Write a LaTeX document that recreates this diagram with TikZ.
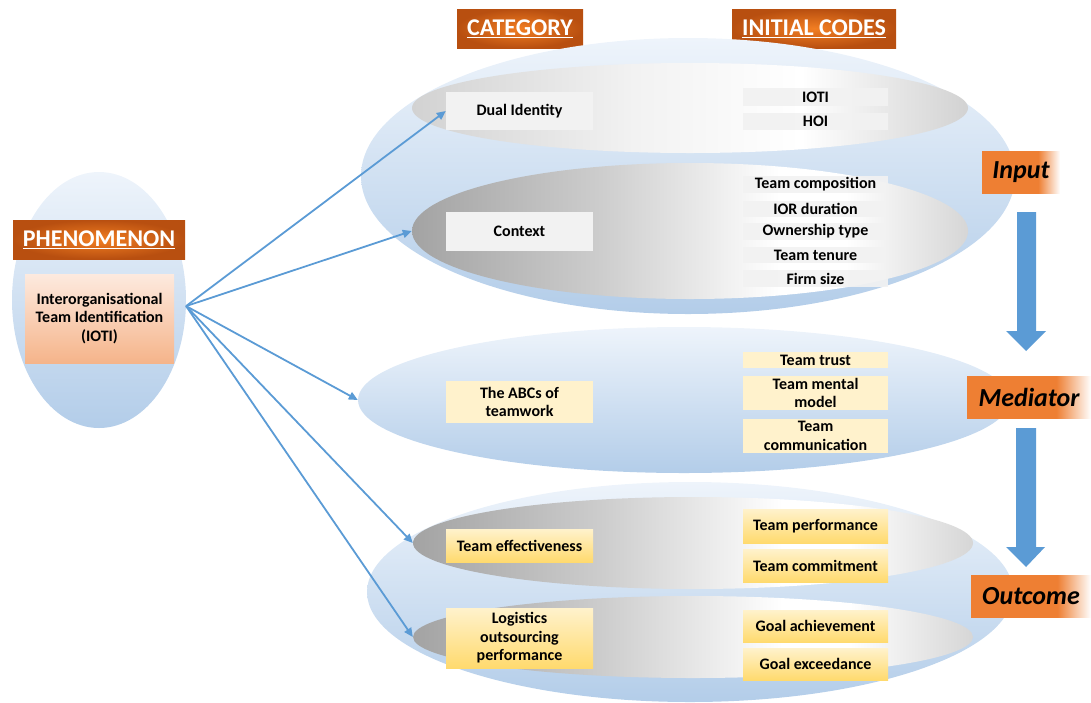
\documentclass[tikz,border=0pt]{standalone}
\usepackage{fontspec}
\setmainfont{Carlito}
\usetikzlibrary{shapes.geometric,arrows.meta}

% palette
\definecolor{hdDark}{HTML}{B84F10}
\definecolor{hdLight}{HTML}{F27E22}
\definecolor{labOr}{HTML}{EE7F33}
\definecolor{arrBlue}{HTML}{5B9BD5}
\definecolor{ellTop}{HTML}{EEF4FB}
\definecolor{ellBot}{HTML}{B3CDE9}
\definecolor{boxGrey}{HTML}{F2F2F2}
\definecolor{yelLight}{HTML}{FFF2CC}
\definecolor{yelDeep}{HTML}{FFDA6E}
\definecolor{peachTop}{HTML}{FDEADF}
\definecolor{peachBot}{HTML}{F5B48A}
\definecolor{gDark}{HTML}{A3A3A3}
\definecolor{gMid}{HTML}{CDCDCD}
\definecolor{gEnd}{HTML}{D6D6D6}
\definecolor{gSoft}{HTML}{D2D2D2}

% stage labels fade out to white on their right end
\pgfdeclarehorizontalshading{labelfade}{100bp}{color(0bp)=(labOr); color(25bp)=(labOr); color(61bp)=(labOr); color(75bp)=(white); color(100bp)=(white)}
% darker grey discs
\pgfdeclarehorizontalshading{greyband}{100bp}{color(0bp)=(gDark); color(25bp)=(gDark); color(42bp)=(gMid); color(58bp)=(white); color(64bp)=(white); color(75bp)=(gEnd); color(100bp)=(gEnd)}
% lighter grey disc
\pgfdeclarehorizontalshading{greysoft}{100bp}{color(0bp)=(gSoft); color(25bp)=(gSoft); color(45bp)=(boxGrey); color(60bp)=(white); color(75bp)=(gSoft); color(100bp)=(gSoft)}

\tikzset{
  body/.style={font=\bfseries\fontsize{16}{18.5}\selectfont},
  hdr/.style={shade, inner color=hdLight, outer color=hdDark, text=white,
    font=\bfseries\fontsize{24}{27}\selectfont, minimum height=39pt, inner sep=0pt},
  stage/.style={shade, shading=labelfade, minimum height=42pt, inner sep=0pt,
    font=\bfseries\itshape\fontsize{26}{30}\selectfont},
  blueell/.style={ellipse, inner sep=0pt, top color=ellTop, bottom color=ellBot},
  greyell/.style={ellipse, inner sep=0pt, shade, shading=greyband},
  softell/.style={ellipse, inner sep=0pt, shade, shading=greysoft},
  catbox/.style={body, minimum width=147pt, inner sep=0pt, align=center},
  codebox/.style={body, minimum width=145pt, inner sep=0pt, align=center},
  greyfill/.style={fill=boxGrey},
  codegrey/.style={fill=boxGrey, fill opacity=0.92, text opacity=1},
  flatyel/.style={fill=yelLight},
  gradyel/.style={top color=yelLight, bottom color=yelDeep},
  link/.style={draw=arrBlue, line width=1.8pt, -{Triangle[length=9pt,width=8pt]}},
  bigarrow/.style={fill=arrBlue}
}

\begin{document}
\begin{tikzpicture}[x=1pt,y=-1pt]
\useasboundingbox (0,0) rectangle (1091,702);

% ---------- phenomenon ----------
\node[blueell, minimum width=174pt, minimum height=256pt] (phenEll) at (99,300) {};
\node[hdr, minimum width=172pt] (phenHdr) at (99,239.5) {\underline{PHENOMENON}};
\node[body, top color=peachTop, bottom color=peachBot, minimum width=149pt,
      minimum height=89pt, inner sep=0pt, align=center] (ioti) at (99.5,318.5)
      {Interorganisational\\Team Identification\\(IOTI)};

% ---------- column headers ----------
\node[hdr, minimum width=126pt] (catHdr) at (520,28.5) {\underline{CATEGORY}};
\node[hdr, minimum width=164pt] (codeHdr) at (814,28.5) {\underline{INITIAL CODES}};

% ---------- input ----------
\node[blueell, minimum width=654pt, minimum height=276pt] (inEll) at (688,176) {};
\node[softell, minimum width=556pt, minimum height=90pt] (diEll) at (690,108) {};
\node[greyell, minimum width=556pt, minimum height=136pt] (ctxEll) at (690,231) {};

\node[catbox, greyfill, minimum height=38pt] (diBox) at (519.5,111) {Dual Identity};
\node[catbox, greyfill, minimum height=39pt] (ctxBox) at (519.5,231.5) {Context};

\node[codebox, codegrey, minimum height=18pt] (cIOTI) at (815.5,97) {IOTI};
\node[codebox, codegrey, minimum height=17pt] (cHOI) at (815.5,121.5) {HOI};
\node[codebox, codegrey, minimum height=17pt] (cComp) at (815.5,184.5) {Team composition};
\node[codebox, codegrey, minimum height=16pt] (cIOR) at (815.5,209) {IOR duration};
\node[codebox, codegrey, minimum height=17pt] (cOwn) at (815.5,231.5) {Ownership type};
\node[codebox, codegrey, minimum height=16pt] (cTen) at (815.5,255) {Team tenure};
\node[codebox, codegrey, minimum height=17pt] (cFirm) at (815.5,278.5) {Firm size};

% ---------- mediator ----------
\node[blueell, minimum width=652pt, minimum height=146pt] (medEll) at (684,400) {};
\node[catbox, flatyel, minimum height=42pt] (abcBox) at (519.5,402) {The ABCs of\\teamwork};
\node[codebox, flatyel, minimum height=16pt] (cTrust) at (815.5,360) {Team trust};
\node[codebox, flatyel, minimum height=34pt] (cModel) at (815.5,393) {Team mental\\model};
\node[codebox, flatyel, minimum height=34pt] (cComm) at (815.5,436) {Team\\communication};

% ---------- outcome ----------
\node[blueell, minimum width=646pt, minimum height=220pt] (outEll) at (690,592) {};
\node[greyell, minimum width=560pt, minimum height=92pt] (teEll) at (693,543) {};
\node[greyell, minimum width=560pt, minimum height=82pt] (loEll) at (693,637) {};

\node[catbox, gradyel, minimum height=33pt] (teBox) at (519.5,545.5) {Team effectiveness};
\node[catbox, gradyel, minimum height=60pt] (loBox) at (519.5,638) {Logistics\\outsourcing\\performance};
\node[codebox, gradyel, minimum height=34pt] (cPerf) at (815.5,526) {Team performance};
\node[codebox, gradyel, minimum height=33pt] (cCommit) at (815.5,565.5) {Team commitment};
\node[codebox, gradyel, minimum height=32pt] (cGoalA) at (815.5,626) {Goal achievement};
\node[codebox, gradyel, minimum height=32pt] (cGoalE) at (815.5,664) {Goal exceedance};

% ---------- stage labels ----------
\node[stage, minimum width=78pt] (inLab) at (1021,172.5) {Input};
\node[stage, minimum width=124pt] (medLab) at (1029,397) {Mediator};
\node[stage, minimum width=120pt] (outLab) at (1031,596) {Outcome};

% ---------- flow arrows between stages ----------
\fill[bigarrow] (1017,212) -- (1036,212) -- (1036,331) -- (1046,331)
  -- (1026,351) -- (1006,331) -- (1017,331) -- cycle;
\fill[bigarrow] (1016,428) -- (1036,428) -- (1036,547) -- (1045,547)
  -- (1026,567) -- (1006,547) -- (1016,547) -- cycle;

% ---------- links from the phenomenon ----------
\draw[link] (phenEll.-4) -- (diBox.west);
\draw[link] (phenEll.-4) -- (ctxEll.west);
\draw[link] (phenEll.-4) -- (medEll.west);
\draw[link] (phenEll.-4) -- (teEll.west);
\draw[link] (phenEll.-4) -- (loEll.west);
\end{tikzpicture}
\end{document}
